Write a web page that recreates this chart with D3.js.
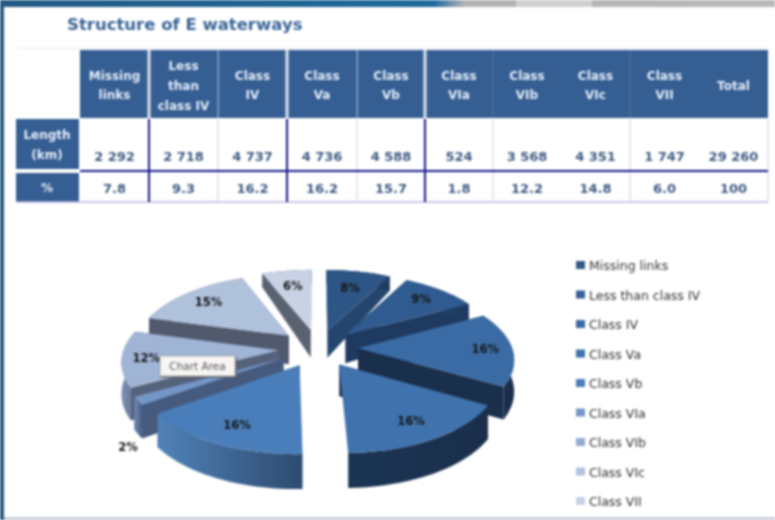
<!DOCTYPE html>
<head>
  <meta charset="utf-8">
  <script src="https://d3js.org/d3.v7.min.js"></script>
  <style>
    body { margin:0; background:#fff; overflow:hidden; }
    svg { display:block; filter:blur(1px); }
    text { font-family:"DejaVu Sans",sans-serif; }
  </style>
</head>
<body>
  <svg id="svgelem" width="775" height="520"></svg>
  <script>
    var categories = ["Missing links","Less than class IV","Class IV","Class Va","Class Vb","Class VIa","Class VIb","Class VIc","Class VII"];
    var headerLines = [["Missing","links"],["Less","than","class IV"],["Class","IV"],["Class","Va"],["Class","Vb"],["Class","VIa"],["Class","VIb"],["Class","VIc"],["Class","VII"],["Total"]];
    var lengths = ["2 292","2 718","4 737","4 736","4 588","524","3 568","4 351","1 747","29 260"];
    var percents = ["7.8","9.3","16.2","16.2","15.7","1.8","12.2","14.8","6.0","100"];
    var shares = [7.8,9.3,16.2,16.2,15.7,1.8,12.2,14.8,6.0];
    var pieLabels = ["8%","9%","16%","16%","16%","2%","12%","15%","6%"];

    var topColors = ["#2d5585","#2f5b90","#3b6ba4","#4072ad","#4a7eba","#7496c6","#a0b4d6","#b0c1dc","#c8d2e5"];
    var legendColors = ["#30588a","#33609a","#3a6aa4","#4072b0","#4a7eba","#7496c6","#94abd0","#b0c1dc","#c8d2e5"];
    var sideColors = ["#24466e","#1f3a60","#1a2f4c","#1c3350","#324f74","#465a7e","#56627c","#505a6c","#5a6272"];
    var rimLeft = ["#24466e","#24466e","#1c3353","#1c3555","#5082b8","#6f8cb8","#7d92b5","#505a6c","#5a6272"];
    var rimRight = ["#1f3a60","#1f3a60","#1a2c48","#1a2e4a","#2d4b70","#465a7e","#5f7090","#505a6c","#5a6272"];
    var labelRadius = [108,120,127,120,120,154,130,120,112];

    var svg = d3.select("#svgelem");
    var defs = svg.append("defs");

    // window chrome behind the slide
    var chrome = defs.append("linearGradient").attr("id","chrome");
    chrome.append("stop").attr("offset","0").attr("stop-color","#245a84");
    chrome.append("stop").attr("offset","0.56").attr("stop-color","#1d6a9c");
    chrome.append("stop").attr("offset","0.6").attr("stop-color","#b4b4b4");
    chrome.append("stop").attr("offset","1").attr("stop-color","#b8b8b8");
    svg.append("rect").attr("width",775).attr("height",7).attr("fill","url(#chrome)");
    svg.append("rect").attr("x",516).attr("width",76).attr("height",7).attr("fill","#d0d0d0");
    svg.append("rect").attr("y",0).attr("width",4).attr("height",520).attr("fill","#27597f");
    svg.append("rect").attr("x",4).attr("y",517).attr("width",771).attr("height",3).attr("fill","#c8ced6");

    svg.append("text").attr("x",67).attr("y",30)
      .attr("fill","#3a6496").style("font-size","16.5px").style("font-weight","bold")
      .text("Structure of E waterways");

    // table
    var colEdges = [80,149,218,287,357,425,493,561,630,699,768];
    var thick = [149,287,425], faint = [218,357,493,630,768];
    var headTop = 50, headBot = 118, rowMid = 171, rowBot = 202;

    svg.append("line").attr("x1",16).attr("x2",768).attr("y1",48).attr("y2",48).attr("stroke","#e4e2f4");
    svg.append("rect").attr("x",80).attr("y",headTop).attr("width",688).attr("height",headBot-headTop).attr("fill","#355e92");
    svg.append("rect").attr("x",16).attr("y",119).attr("width",63).attr("height",50).attr("fill","#355e92");
    svg.append("rect").attr("x",16).attr("y",173).attr("width",63).attr("height",29).attr("fill","#355e92");

    svg.selectAll(".headgap").data(thick).enter().append("rect")
      .attr("x",function(d){return d-1.5}).attr("y",headTop).attr("width",3).attr("height",headBot-headTop).attr("fill","#dfe3ee");
    svg.selectAll(".headthin").data([218,357]).enter().append("rect")
      .attr("x",function(d){return d-0.5}).attr("y",headTop).attr("width",1.5).attr("height",headBot-headTop).attr("fill","#8da3c4");
    svg.selectAll(".headfaint").data([493,630]).enter().append("rect")
      .attr("x",function(d){return d-0.5}).attr("y",headTop).attr("width",1).attr("height",headBot-headTop).attr("fill","#5279a8");

    svg.selectAll(".bodyfaint").data(faint).enter().append("line")
      .attr("x1",function(d){return d}).attr("x2",function(d){return d})
      .attr("y1",119).attr("y2",rowBot).attr("stroke","#d8d6ee").attr("stroke-width",1.2);
    svg.append("line").attr("x1",16).attr("x2",768).attr("y1",rowBot).attr("y2",rowBot).attr("stroke","#b9b8e0").attr("stroke-width",1.5);
    svg.selectAll(".bodythick").data(thick).enter().append("line")
      .attr("x1",function(d){return d}).attr("x2",function(d){return d})
      .attr("y1",119).attr("y2",rowBot).attr("stroke","#16168c").attr("stroke-width",2);
    svg.append("line").attr("x1",80).attr("x2",768).attr("y1",rowMid).attr("y2",rowMid).attr("stroke","#16168c").attr("stroke-width",2);

    headerLines.forEach(function(lines,i){
      var mid = (colEdges[i]+colEdges[i+1])/2;
      var step = lines.length==3 ? 20 : 19;
      var first = 89.5 - (lines.length-1)*step/2;
      lines.forEach(function(t,j){
        svg.append("text").attr("x",mid).attr("y",first+j*step).attr("text-anchor","middle")
          .attr("fill","#e6eefa").style("font-size","12px").style("font-weight","bold").text(t);
      });
    });
    svg.append("text").attr("x",47).attr("y",139).attr("text-anchor","middle")
      .attr("fill","#e6eefa").style("font-size","12px").style("font-weight","bold").text("Length");
    svg.append("text").attr("x",47).attr("y",159).attr("text-anchor","middle")
      .attr("fill","#e6eefa").style("font-size","12px").style("font-weight","bold").text("(km)");
    svg.append("text").attr("x",47).attr("y",192).attr("text-anchor","middle")
      .attr("fill","#e6eefa").style("font-size","12px").style("font-weight","bold").text("%");

    lengths.forEach(function(t,i){
      svg.append("text").attr("x",(colEdges[i]+colEdges[i+1])/2).attr("y",161).attr("text-anchor","middle")
        .attr("fill","#3d5b82").style("font-size","13px").style("font-weight","bold").text(t);
    });
    percents.forEach(function(t,i){
      svg.append("text").attr("x",(colEdges[i]+colEdges[i+1])/2).attr("y",193).attr("text-anchor","middle")
        .attr("fill","#3d5b82").style("font-size","13px").style("font-weight","bold").text(t);
    });

    // exploded 3d pie, d3.pie gives the angles and project() does the perspective
    var cx = 318, cy = 348, R = 154, explode = 40, squash = 0.47, persp = 0.00084;
    var depth = d3.scaleLinear().domain([-190,0,190]).range([13,31,35]).clamp(true);

    function project(x,y,down){
      var s = 1/(1-y*persp);
      return [cx+x*s, cy+y*squash*s+(down?depth(y):0)];
    }
    function outer(o,a,r){ return [o[0]+r*Math.sin(a), o[1]-r*Math.cos(a)]; }

    var line = d3.line();
    var arcs = d3.pie().sort(null)(shares);

    var slices = arcs.map(function(a,i){
      var mid = (a.startAngle+a.endAngle)/2;
      var apex = [explode*Math.sin(mid), -explode*Math.cos(mid)];
      var steps = d3.range(0,25).map(function(k){ return a.startAngle+(a.endAngle-a.startAngle)*k/24; });
      var rim = steps.map(function(t){ return outer(apex,t,R); });
      return {i:i,mid:mid,apex:apex,rim:rim,start:a.startAngle,end:a.endAngle};
    }).sort(function(a,b){ return a.apex[1]-b.apex[1]; });

    var pieG = svg.append("g");
    slices.forEach(function(d){
      var grad = defs.append("linearGradient").attr("id","rim"+d.i);
      grad.append("stop").attr("offset","0").attr("stop-color",rimLeft[d.i]);
      grad.append("stop").attr("offset","1").attr("stop-color",rimRight[d.i]);

      var a0 = project(d.apex[0],d.apex[1],false), a1 = project(d.apex[0],d.apex[1],true);
      [[d.rim[0],d.start],[d.rim[d.rim.length-1],d.end]].forEach(function(e){
        // cut faces pointing straight at the viewer are seen edge on
        if (Math.cos(e[1])<0 && Math.abs(Math.sin(e[1]))<0.25) return;
        var p = e[0];
        pieG.append("path")
          .attr("d",line([a0,project(p[0],p[1],false),project(p[0],p[1],true),a1])+"Z")
          .attr("fill",sideColors[d.i]);
      });
      var upper = d.rim.map(function(p){ return project(p[0],p[1],false); });
      var lower = d.rim.map(function(p){ return project(p[0],p[1],true); }).reverse();
      pieG.append("path").attr("d",line(upper.concat(lower))+"Z").attr("fill","url(#rim"+d.i+")");
      pieG.append("path").attr("d",line([a0].concat(upper))+"Z").attr("fill",topColors[d.i]);
    });

    slices.forEach(function(d){
      var small = shares[d.i] < 3;
      var p = outer(d.apex,d.mid,labelRadius[d.i]);
      var q = project(p[0],p[1],false);
      pieG.append("text").attr("x",q[0]+(small?-10:0)).attr("y",q[1]+(small?50:4)).attr("text-anchor","middle")
        .attr("fill","#161616").style("font-size","11.5px").style("font-weight","bold").text(pieLabels[d.i]);
    });

    // tooltip left on the slide
    defs.append("filter").attr("id","tipshadow").append("feDropShadow")
      .attr("dx",1).attr("dy",1.5).attr("stdDeviation",1).attr("flood-color","#555");
    svg.append("rect").attr("x",160).attr("y",356).attr("width",75).attr("height",20)
      .attr("fill","#f6f5f2").attr("stroke","#b0b0b0").attr("filter","url(#tipshadow)");
    svg.append("text").attr("x",197.5).attr("y",370).attr("text-anchor","middle")
      .attr("fill","#5a5560").style("font-size","10.5px").text("Chart Area");

    // legend
    var legendY = d3.scalePoint().domain(categories).range([265,501]);
    var legend = svg.selectAll(".legend").data(categories).enter().append("g")
      .attr("transform",function(d){return "translate(576,"+legendY(d)+")"});
    legend.append("rect").attr("x",0).attr("y",-4).attr("width",9).attr("height",8)
      .attr("fill",function(d,i){return legendColors[i]});
    legend.append("text").attr("x",13).attr("y",5).attr("fill","#333")
      .style("font-size","12.5px").text(function(d){return d});
  </script>
</body>
